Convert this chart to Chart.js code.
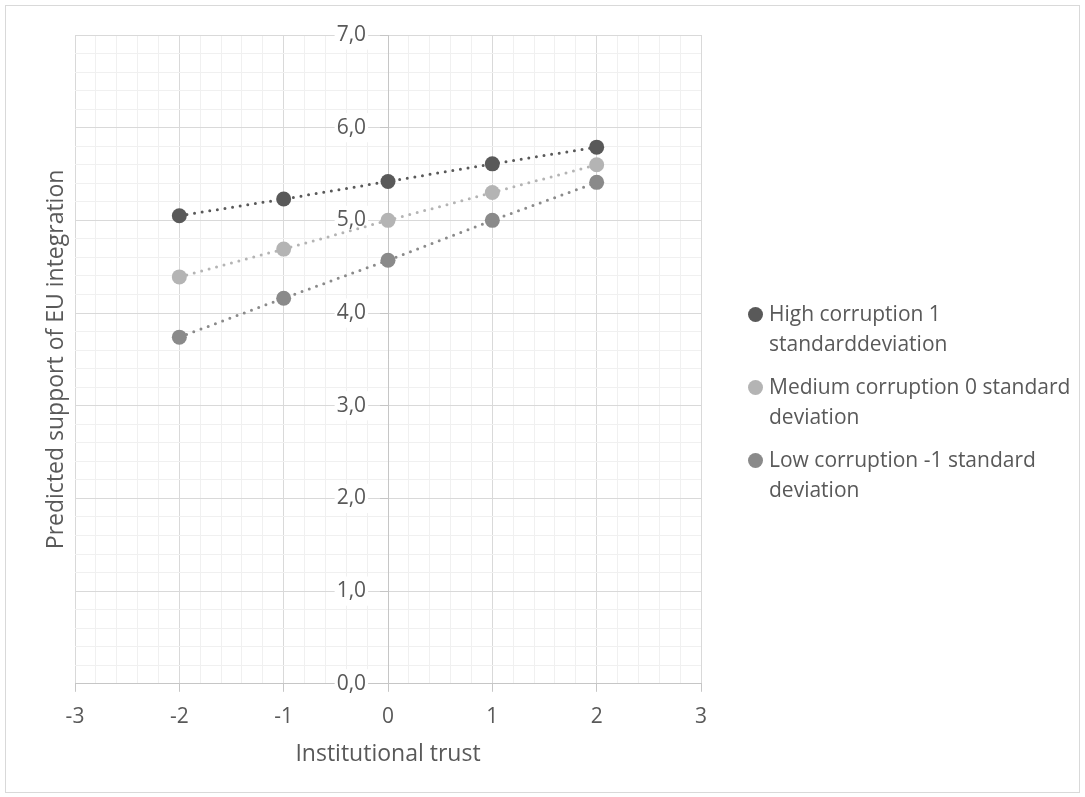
<!DOCTYPE html>
<html>
<head>
<meta charset="utf-8">
<script src="https://cdn.jsdelivr.net/npm/chart.js@4/dist/chart.umd.min.js"></script>
<style>
    body { margin: 0; background: #fff; font-family: 'Open Sans', sans-serif; }
    #wrap { position: relative; width: 1085px; height: 797px; }
    #frame { position: absolute; left: 5px; top: 5px; width: 1073px; height: 786px; border: 1px solid #d9d9d9; }
    #chart { position: absolute; left: 0; top: 0; }
    #legend { position: absolute; left: 748px; top: 299px; width: 333px; color: #595959; font-size: 21px; line-height: 29.5px; }
    .item { position: relative; padding-left: 21px; margin-bottom: 14px; }
    .dot { position: absolute; left: 0; top: 7.5px; width: 15px; height: 15px; border-radius: 50%; }
</style>
</head>
<body>
<div id="wrap">
    <div id="frame"></div>
    <canvas id="chart" width="1085" height="797"></canvas>
    <div id="legend"></div>
</div>
<script>
const trust = [-2, -1, 0, 1, 2];
const seriesNames = [
    'High corruption 1 standarddeviation',
    'Medium corruption 0 standard deviation',
    'Low corruption -1 standard deviation'
];
const highValues = [5.05, 5.23, 5.42, 5.61, 5.79];
const mediumValues = [4.39, 4.69, 5.00, 5.30, 5.60];
const lowValues = [3.74, 4.16, 4.57, 5.00, 5.41];
const seriesColors = ['#595959', '#b4b4b4', '#8a8a8a'];
const xTicks = [-3, -2, -1, 0, 1, 2, 3];
const yTicks = [0, 1, 2, 3, 4, 5, 6, 7];
const xTitle = 'Institutional trust';
const yTitle = 'Predicted support of EU integration';

const textColor = '#595959';
const family = "'Open Sans', sans-serif";
const tickFont = { family: family, size: 21 };
const titleSize = 23;

function isMajor(v) {
    return Math.abs(v - Math.round(v)) < 1e-6;
}

function makeSeries(values, i, order) {
    return {
        label: seriesNames[i],
        data: trust.map((x, k) => ({ x: x, y: values[k] })),
        borderColor: seriesColors[i],
        backgroundColor: seriesColors[i],
        borderWidth: 3,
        borderDash: [0, 7.7],
        borderCapStyle: 'round',
        pointRadius: 7.5,
        pointBorderWidth: 0,
        pointBackgroundColor: seriesColors[i],
        order: order
    };
}

// axis titles placed by hand (the y axis itself sits at x = 0)
const axisTitles = {
    id: 'axisTitles',
    afterDraw(chart) {
        const ctx = chart.ctx;
        const area = chart.chartArea;
        ctx.save();
        ctx.fillStyle = textColor;
        ctx.font = `${titleSize}px ${family}`;
        ctx.textAlign = 'center';
        ctx.textBaseline = 'alphabetic';
        ctx.fillText(xTitle, (area.left + area.right) / 2, 761);
        ctx.translate(63, (area.top + area.bottom) / 2);
        ctx.rotate(-Math.PI / 2);
        ctx.fillText(yTitle, 0, 0);
        ctx.restore();
    }
};

const gridColor = c => isMajor(c.tick.value) ? '#d9d9d9' : '#f0f0f0';
const markColor = c => isMajor(c.tick.value) ? '#c6c6c6' : 'rgba(0,0,0,0)';

const chart = new Chart(document.getElementById('chart'), {
    type: 'line',
    data: {
        datasets: [
            makeSeries(highValues, 0, 3),
            makeSeries(mediumValues, 1, 2),
            makeSeries(lowValues, 2, 1)
        ]
    },
    options: {
        responsive: false,
        animation: false,
        layout: {
            padding: { left: 75, top: 35, right: 384, bottom: 54 }
        },
        plugins: {
            legend: { display: false },
            tooltip: { enabled: false }
        },
        scales: {
            x: {
                type: 'linear',
                min: xTicks[0],
                max: xTicks[xTicks.length - 1],
                border: { color: '#c6c6c6', width: 1 },
                grid: { color: gridColor, tickColor: markColor, tickLength: 8 },
                ticks: {
                    stepSize: 0.2,
                    autoSkip: false,
                    maxRotation: 0,
                    padding: 13,
                    color: textColor,
                    font: tickFont,
                    callback: v => isMajor(v) ? String(Math.round(v)) : ''
                }
            },
            // y axis line, grid and tick marks at x = 0
            y: {
                type: 'linear',
                position: { x: 0 },
                min: yTicks[0],
                max: yTicks[yTicks.length - 1],
                border: { color: '#c6c6c6', width: 1 },
                grid: { color: gridColor, tickColor: markColor, tickLength: 8 },
                ticks: { stepSize: 0.2, autoSkip: false, display: false }
            },
            // y tick labels, set a little left of the axis line
            yLabels: {
                type: 'linear',
                axis: 'y',
                position: { x: -0.21 },
                min: yTicks[0],
                max: yTicks[yTicks.length - 1],
                border: { display: false },
                grid: { display: false },
                ticks: {
                    stepSize: 1,
                    color: textColor,
                    font: tickFont,
                    showLabelBackdrop: true,
                    backdropColor: '#ffffff',
                    backdropPadding: 2,
                    callback: v => v.toFixed(1).replace('.', ',')
                }
            }
        }
    },
    plugins: [axisTitles]
});

// legend as html so the long names wrap like the original
const legend = document.getElementById('legend');
legend.innerHTML = seriesNames.map((name, i) => `
    <div class="item"><span class="dot" style="background:${seriesColors[i]}"></span>${name}</div>
`).join('');
</script>
</body>
</html>
